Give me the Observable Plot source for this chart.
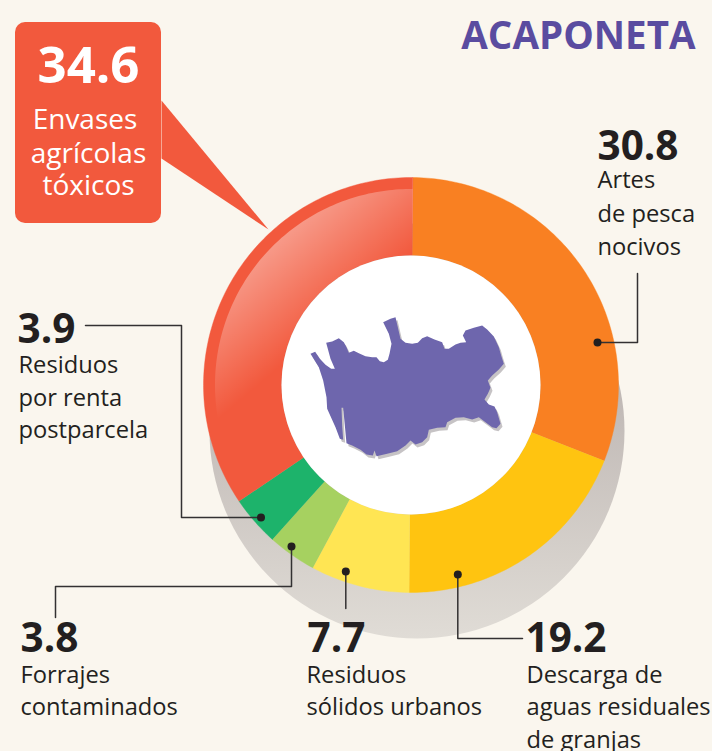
<!DOCTYPE html>
<html>
<head>
<meta charset="utf-8">
<script src="https://cdn.jsdelivr.net/npm/d3@7"></script>
<script src="https://cdn.jsdelivr.net/npm/@observablehq/plot@0.6"></script>
<style>
html,body{margin:0;padding:0;background:#faf6ee;overflow:hidden}
svg{display:block}
</style>
</head>
<body>
<div id="chart"></div>
<script>
// Data: clockwise from the top of the ring
const categories = ["Artes de pesca nocivos", "Descarga de aguas residuales de granjas", "Residuos sólidos urbanos", "Forrajes contaminados", "Residuos por renta postparcela", "Envases agrícolas tóxicos"];
const values = [30.8, 19.2, 7.7, 3.8, 3.9, 34.6];
const colors = ["#f98022", "#ffc410", "#ffe553", "#a6d160", "#1db36b", "#f2593d"];
const title = "ACAPONETA";

// Layout of the ring (in pixels of the picture)
const W = 712, H = 751, cx = 410.5, cy = 384.5, R = 207.5, r0 = 129.5, rHi = 196, rot = 0.5;
const sum = d3.sum(values);
function arcPoints(a0, a1, rOuter, rInner, name) {
  const pts = [];
  const n = Math.max(2, Math.ceil(a1 - a0));
  for (let i = 0; i <= n; i++) {
    const a = (rot + a0 + (a1 - a0) * i / n) * Math.PI / 180;
    pts.push({name, x: cx + rOuter * Math.sin(a), y: cy - rOuter * Math.cos(a)});
  }
  for (let i = n; i >= 0; i--) {
    const a = (rot + a0 + (a1 - a0) * i / n) * Math.PI / 180;
    pts.push({name, x: cx + rInner * Math.sin(a), y: cy - rInner * Math.cos(a)});
  }
  return pts;
}
let acc = 0;
const slices = [];
let redStart = 0;
values.forEach((v, i) => {
  const a0 = acc / sum * 360, a1 = (acc + v) / sum * 360;
  acc += v;
  if (i === values.length - 1) redStart = a0;
  arcPoints(a0, a1, R, r0, categories[i]).forEach(p => slices.push({...p, color: colors[i]}));
});
const highlight = arcPoints(redStart, 360, rHi, r0, "hi");

// Callout tail and map outline
const tail = [[161, 100], [268, 229], [161, 158]].map(([x, y]) => ({x, y}));
const mapZoom = [[60,160],[74,154],[88,175],[105,193],[122,205],[133,205],[120,175],[107,127],[125,123],[145,113],[160,125],[168,140],[175,157],[190,151],[205,158],[225,167],[245,170],[258,170],[268,182],[280,185],[292,178],[297,160],[303,130],[295,100],[278,65],[300,55],[315,50],[322,80],[330,115],[345,127],[365,130],[382,127],[395,113],[410,107],[432,117],[455,125],[462,145],[475,145],[495,132],[510,127],[527,125],[517,105],[525,90],[550,82],[575,75],[590,87],[610,108],[625,140],[632,165],[640,190],[625,207],[605,225],[592,240],[600,262],[592,280],[582,297],[595,312],[612,318],[620,335],[630,370],[618,383],[605,380],[585,365],[565,350],[545,357],[520,350],[495,352],[470,365],[465,380],[440,382],[415,388],[410,410],[395,425],[375,432],[360,420],[345,435],[320,452],[290,460],[258,467],[252,450],[247,465],[228,462],[210,448],[185,435],[168,428],[163,375],[158,322],[153,322],[155,375],[158,418],[148,415],[135,380],[110,325],[108,290],[98,240],[85,200]];
const mapPts = mapZoom.map(([x, y]) => ({x: 290 + x / 3, y: 300 + y / 3}));
const mapShadow = mapPts.map(p => ({x: p.x + 2, y: p.y + 3}));

// Leader lines
const leaders = [
  {id: "a", pts: [[597, 342], [637, 342], [637, 273]]},
  {id: "b", pts: [[457.3, 574], [457.3, 638], [522, 638]]},
  {id: "c", pts: [[345.3, 571], [345.3, 608]]},
  {id: "d", pts: [[291, 546], [291, 586], [55, 586], [55, 617]]},
  {id: "e", pts: [[260.5, 517], [181, 517], [181, 325], [85, 325]]}
];
const leaderPts = leaders.flatMap(l => l.pts.map(([x, y]) => ({id: l.id, x, y})));
const leaderDots = leaders.map(l => ({x: l.pts[0][0], y: l.pts[0][1]}));

// Text
const numberLabels = [
  {t: values[0].toFixed(1), x: 597, y: 159},
  {t: values[1].toFixed(1), x: 525, y: 651},
  {t: values[2].toFixed(1), x: 307, y: 651},
  {t: values[3].toFixed(1), x: 20, y: 651},
  {t: values[4].toFixed(1), x: 17, y: 342}
];
const textLines = [
  {t: "Artes", x: 597, y: 187},
  {t: "de pesca", x: 597, y: 221},
  {t: "nocivos", x: 597, y: 254},
  {t: "Residuos", x: 18, y: 372},
  {t: "por renta", x: 18, y: 405},
  {t: "postparcela", x: 18, y: 437},
  {t: "Forrajes", x: 20, y: 682},
  {t: "contaminados", x: 20, y: 714},
  {t: "Residuos", x: 306, y: 682},
  {t: "sólidos urbanos", x: 306, y: 714},
  {t: "Descarga de", x: 526, y: 682},
  {t: "aguas residuales", x: 526, y: 714},
  {t: "de granjas", x: 526, y: 747}
];
const calloutLines = [
  {t: "Envases", x: 84.5, y: 128},
  {t: "agrícolas", x: 88, y: 162},
  {t: "tóxicos", x: 88, y: 194}
];

const font = "'Open Sans'";
const ink = "#231f20";

const defs = () => {
  const d = d3.create("svg:defs");
  d.html(`
    <linearGradient id="shadowGrad" gradientUnits="userSpaceOnUse" x1="0" y1="340" x2="0" y2="638">
      <stop offset="0" stop-color="#b9b1ae"/><stop offset="1" stop-color="#e0dcd6"/>
    </linearGradient>
    <linearGradient id="redGrad" gradientUnits="userSpaceOnUse" x1="235" y1="240" x2="316" y2="335">
      <stop offset="0" stop-color="#ffffff" stop-opacity="0.5"/><stop offset="1" stop-color="#ffffff" stop-opacity="0"/>
    </linearGradient>`);
  return d.node();
};

const chart = Plot.plot({
  width: W, height: H, margin: 0,
  style: {background: "#faf6ee", overflow: "hidden"},
  x: {domain: [0, W], range: [0, W], axis: null},
  y: {domain: [0, H], range: [0, H], axis: null},
  marks: [
    defs,
    // shadow
    Plot.dot([{x: 416.5, y: 430.5}], {x: "x", y: "y", r: R, fill: "url(#shadowGrad)", stroke: "none"}),
    // callout
    Plot.rect([{x1: 15, x2: 161, y1: 22, y2: 223}], {x1: "x1", x2: "x2", y1: "y1", y2: "y2", fill: colors[5], rx: 10}),
    Plot.line(tail, {x: "x", y: "y", fill: colors[5], stroke: "none"}),
    // ring
    Plot.line(slices, {x: "x", y: "y", z: "name", fill: "color", stroke: "color", strokeWidth: 0.4}),
    Plot.line(highlight, {x: "x", y: "y", fill: "url(#redGrad)", stroke: "none"}),
    Plot.dot([{x: cx, y: cy}], {x: "x", y: "y", r: r0, fill: "#ffffff", stroke: "none"}),
    // map
    Plot.line(mapShadow, {x: "x", y: "y", fill: "#c6c3c5", stroke: "none"}),
    Plot.line(mapPts, {x: "x", y: "y", fill: "#6e66ad", stroke: "none"}),
    // leaders
    Plot.line(leaderPts, {x: "x", y: "y", z: "id", stroke: "#333132", strokeWidth: 1.5, curve: "linear"}),
    Plot.dot(leaderDots, {x: "x", y: "y", r: 4, fill: "#231f20", stroke: "none"}),
    // texts
    Plot.text([title], {x: 695, y: 48, text: d => d, textAnchor: "end", lineAnchor: "bottom", fontFamily: font, fontWeight: 700, fontSize: 38.5, fill: "#5a4ca0"}),
    Plot.text(["34.6"], {x: 88, y: 82, text: d => d, textAnchor: "middle", lineAnchor: "bottom", fontFamily: font, fontWeight: 700, fontSize: 51, fill: "#ffffff"}),
    Plot.text(calloutLines, {x: "x", y: "y", text: "t", textAnchor: "middle", lineAnchor: "bottom", fontFamily: font, fontSize: 28, fill: "#ffffff"}),
    Plot.text(numberLabels, {x: "x", y: "y", text: "t", textAnchor: "start", lineAnchor: "bottom", fontFamily: font, fontWeight: 700, fontSize: 40.5, fill: ink}),
    Plot.text(textLines, {x: "x", y: "y", text: "t", textAnchor: "start", lineAnchor: "bottom", fontFamily: font, fontSize: 23.7, fill: ink})
  ]
});
document.getElementById("chart").appendChild(chart);
</script>
</body>
</html>
